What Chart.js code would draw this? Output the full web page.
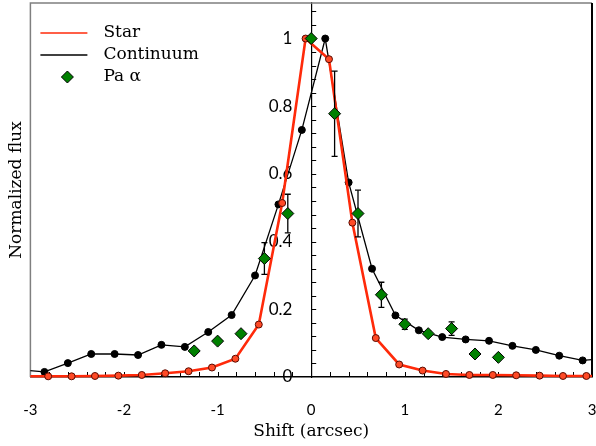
<!DOCTYPE html>
<html>
<head>
<meta charset="utf-8">
<script src="https://cdn.jsdelivr.net/npm/chart.js@4.4.0/dist/chart.umd.min.js"></script>
<style>
  html, body { margin: 0; padding: 0; background: #fff; }
  #wrap { width: 596px; height: 446px; }
</style>
</head>
<body>
<div id="wrap"><canvas id="chart" width="596" height="446"></canvas></div>
<script>
// Star profile (PSF)
const starX = [-3.06, -2.81, -2.56, -2.31, -2.06, -1.81, -1.56, -1.31, -1.06, -0.81, -0.56, -0.31, -0.06,
               0.19, 0.44, 0.69, 0.94, 1.19, 1.44, 1.69, 1.94, 2.19, 2.44, 2.69, 2.94, 3.19];
const starY = [0.002, 0.002, 0.002, 0.003, 0.004, 0.006, 0.011, 0.017, 0.028, 0.054, 0.155, 0.514, 1.0,
               0.939, 0.456, 0.115, 0.037, 0.019, 0.009, 0.006, 0.006, 0.005, 0.004, 0.003, 0.003, 0.002];

// Continuum profile
const contX = [-3.10, -2.85, -2.60, -2.35, -2.10, -1.85, -1.60, -1.35, -1.10, -0.85, -0.60, -0.35, -0.10,
               0.15, 0.40, 0.65, 0.90, 1.15, 1.40, 1.65, 1.90, 2.15, 2.40, 2.65, 2.90, 3.15];
const contY = [0.021, 0.015, 0.041, 0.068, 0.068, 0.065, 0.095, 0.089, 0.133, 0.183, 0.30, 0.51, 0.73,
               1.0, 0.575, 0.32, 0.182, 0.138, 0.118, 0.111, 0.107, 0.092, 0.080, 0.063, 0.049, 0.055];

// Pa alpha line profile with errors
const paX = [-1.25, -1.0, -0.75, -0.5, -0.25, 0, 0.25, 0.5, 0.75, 1.0, 1.25, 1.5, 1.75, 2.0];
const paY = [0.077, 0.106, 0.128, 0.35, 0.483, 1.0, 0.778, 0.483, 0.243, 0.156, 0.128, 0.143, 0.068, 0.058];
const paErr = [0, 0, 0, 0.047, 0.057, 0, 0.126, 0.069, 0.037, 0.015, 0.008, 0.02, 0, 0];

const labels = ['Star', 'Continuum', 'Pa \u03b1'];

const RED = '#ff2a0a';
const SERIF = '"DejaVu Serif", serif';
const SANS = 'Lato, "Liberation Sans", sans-serif';

const pts = (xs, ys) => xs.map((x, i) => ({ x, y: ys[i] }));

// error bars: pairs of points separated by gaps
const errData = [];
paX.forEach((x, i) => {
  if (paErr[i] > 0) {
    errData.push({ x, y: paY[i] - paErr[i] }, { x, y: paY[i] + paErr[i] }, { x, y: null });
  }
});

// keep tick labels from pushing the plot area around
const noPad = (s) => { s.paddingLeft = 0; s.paddingRight = 0; s.paddingTop = 0; s.paddingBottom = 0; };

const axisTicks = {
  id: 'axisTicks',
  beforeDatasetsDraw(chart) {
    const { ctx, chartArea: a, scales: { x, y } } = chart;
    ctx.save();
    // frame
    ctx.lineWidth = 1.5;
    ctx.strokeStyle = '#7f7f7f';
    ctx.beginPath();
    ctx.moveTo(a.left, a.bottom);
    ctx.lineTo(a.left, a.top);
    ctx.lineTo(a.right, a.top);
    ctx.stroke();
    ctx.strokeStyle = '#000';
    ctx.lineWidth = 2;
    ctx.beginPath();
    ctx.moveTo(a.right, a.top);
    ctx.lineTo(a.right, a.bottom);
    ctx.stroke();
    // minor ticks, pointing inward
    ctx.lineWidth = 1;
    ctx.beginPath();
    for (let i = -14; i <= 14; i++) {
      const px = Math.round(x.getPixelForValue(i / 5)) + 0.5;
      ctx.moveTo(px, a.bottom);
      ctx.lineTo(px, a.bottom - 5);
    }
    const x0 = x.getPixelForValue(0);
    for (let i = 1; i <= 27; i++) {
      const py = Math.round(y.getPixelForValue(i * 0.04)) + 0.5;
      ctx.moveTo(x0, py);
      ctx.lineTo(x0 + 5, py);
    }
    ctx.stroke();
    ctx.restore();
  }
};

const boxLegend = {
  id: 'boxLegend',
  afterDatasetsDraw(chart) {
    const { ctx, chartArea: a } = chart;
    const lx = a.left + 10, tx = a.left + 73;
    ctx.save();
    ctx.font = '17px ' + SERIF;
    ctx.fillStyle = '#000';
    ctx.textBaseline = 'middle';
    ctx.lineWidth = 1.5;
    ctx.strokeStyle = RED;
    ctx.beginPath(); ctx.moveTo(lx, 33); ctx.lineTo(lx + 47, 33); ctx.stroke();
    ctx.fillText(labels[0], tx, 33);
    ctx.strokeStyle = '#000';
    ctx.beginPath(); ctx.moveTo(lx, 55); ctx.lineTo(lx + 47, 55); ctx.stroke();
    ctx.fillText(labels[1], tx, 55);
    ctx.fillStyle = '#008000';
    ctx.lineWidth = 1;
    Chart.helpers.drawPoint(ctx, { pointStyle: 'rectRot', radius: 6, borderWidth: 1 }, lx + 27, 77);
    ctx.fillStyle = '#000';
    ctx.fillText(labels[2], tx, 77);
    ctx.restore();
  }
};

const chart = new Chart(document.getElementById('chart'), {
  type: 'scatter',
  data: {
    datasets: [
      {
        label: labels[2],
        data: pts(paX, paY),
        pointStyle: 'rectRot',
        pointRadius: 6,
        backgroundColor: '#008000',
        borderColor: '#000',
        borderWidth: 1,
        order: 0
      },
      {
        label: 'err',
        data: errData,
        showLine: true,
        spanGaps: false,
        borderColor: '#000',
        borderWidth: 1.3,
        pointStyle: 'line',
        pointRadius: 3,
        pointBorderColor: '#000',
        pointBorderWidth: 1.3,
        order: 1
      },
      {
        label: labels[0],
        data: pts(starX, starY),
        showLine: true,
        borderColor: RED,
        borderWidth: 2.6,
        pointRadius: 3.5,
        pointBackgroundColor: '#ff4a26',
        pointBorderColor: '#5a0a00',
        pointBorderWidth: 1,
        clip: { left: 0, right: 0, top: 0, bottom: 10 },
        order: 2
      },
      {
        label: labels[1],
        data: pts(contX, contY),
        showLine: true,
        borderColor: '#000',
        borderWidth: 1.3,
        pointRadius: 3.5,
        pointBackgroundColor: '#000',
        pointBorderColor: '#000',
        pointBorderWidth: 1,
        clip: { left: 0, right: 0, top: 0, bottom: 10 },
        order: 3
      }
    ]
  },
  options: {
    responsive: false,
    animation: false,
    devicePixelRatio: 1,
    layout: { autoPadding: false, padding: { left: 2, right: 4, top: 3, bottom: 2 } },
    plugins: { legend: { display: false }, tooltip: { enabled: false } },
    scales: {
      x: {
        type: 'linear',
        position: { y: 0 },
        min: -3,
        max: 3,
        afterFit: noPad,
        grid: { display: false, drawTicks: false },
        border: { display: true, color: '#000', width: 1.5 },
        ticks: { stepSize: 1, padding: 24, maxRotation: 0, color: '#000', font: { family: SANS, size: 15 } }
      },
      xTitle: {
        type: 'linear',
        position: 'bottom',
        min: -3,
        max: 3,
        afterFit: noPad,
        grid: { display: false, drawTicks: false },
        border: { display: false },
        ticks: { display: false },
        title: {
          display: true,
          text: 'Shift (arcsec)',
          color: '#000',
          font: { family: SERIF, size: 17 },
          padding: { top: 44.6, bottom: 2 }
        }
      },
      y: {
        type: 'linear',
        position: { x: 0 },
        min: 0,
        max: 1.105,
        afterFit: noPad,
        grid: { display: false, drawTicks: false },
        border: { display: true, color: '#000', width: 1.2 },
        ticks: { display: false }
      },
      yLab: {
        type: 'linear',
        position: { x: -0.2 },
        min: 0,
        max: 1.105,
        afterFit: noPad,
        grid: { display: false, drawTicks: false },
        border: { display: false },
        ticks: {
          stepSize: 0.2,
          includeBounds: false,
          color: '#000',
          font: { family: SANS, size: 17 },
          callback: (v) => String(Math.round(v * 10) / 10)
        }
      },
      yTitle: {
        type: 'linear',
        position: 'left',
        min: 0,
        max: 1,
        afterFit: noPad,
        grid: { display: false, drawTicks: false },
        border: { display: false },
        ticks: { display: false },
        title: {
          display: true,
          text: 'Normalized flux',
          color: '#000',
          font: { family: SERIF, size: 17 }
        }
      }
    }
  },
  plugins: [axisTicks, boxLegend]
});
</script>
</body>
</html>
